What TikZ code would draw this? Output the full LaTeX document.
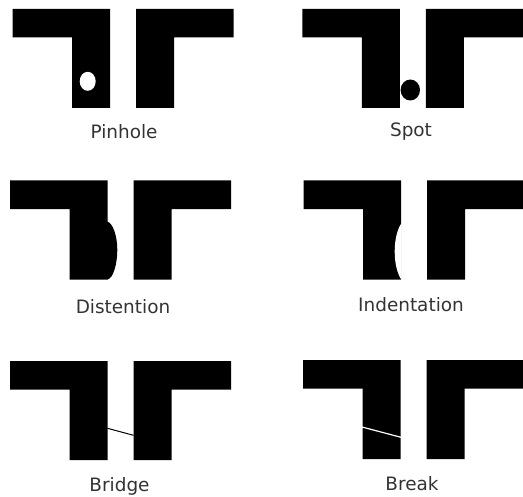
\documentclass[tikz,border=0pt]{standalone}
\usepackage{fontspec}
\setmainfont{DejaVu Sans}
\tikzset{
  trace/.style={fill=black},
  label text/.style={font=\fontsize{18.5}{22}\selectfont,text=black!80},
}
% one pair of conductors, top left corner of the left one at (#1,#2)
\newcommand{\conductors}[2]{
  \begin{scope}[shift={(#1,#2)}]
    \fill[trace] (0,0) -- (97.5,0) -- (97.5,99) -- (59.5,99) -- (59.5,28.5) -- (0,28.5) -- cycle;
    \fill[trace] (123.5,0) -- (221,0) -- (221,28.5) -- (161.5,28.5) -- (161.5,99) -- (123.5,99) -- cycle;
  \end{scope}
}
\begin{document}
\begin{tikzpicture}[x=1bp,y=-1bp]
  \useasboundingbox (0,0) rectangle (523,497);
  % row 1
  \conductors{12.5}{9}
  \fill[white] (87.7,81.3) ellipse (8 and 9.5);
  \node[label text] (pinhole) at (124,132) {Pinhole};
  \conductors{302.3}{9}
  \fill[trace] (410.3,90) ellipse (9.7 and 10.5);
  \node[label text] (spot) at (411,132) {Spot};
  % row 2
  \conductors{10}{180.5}
  \fill[trace] (107,221.5) .. controls (113,223) and (117.3,236) .. (117.3,250)
    .. controls (117.3,264) and (113,279.5) .. (107,279.5) -- cycle;
  \node[label text] (distention) at (123,307) {Distention};
  \conductors{303.5}{180.5}
  \fill[white] (401.5,223) .. controls (397,230) and (394.7,240) .. (394.7,251.5)
    .. controls (394.7,263) and (397,273) .. (401.5,280) -- cycle;
  \node[label text] (indentation) at (411,305) {Indentation};
  % row 3
  \conductors{10}{361}
  \coordinate (bridge a) at (107.5,428.3);
  \coordinate (bridge b) at (133.5,435.3);
  \draw[line width=1bp,black] (bridge a) -- (bridge b);
  \node[label text] (bridge) at (119.5,486) {Bridge};
  \conductors{303}{360}
  \coordinate (break a) at (362,427);
  \coordinate (break b) at (401,437.3);
  \draw[line width=1.2bp,white] (break a) -- (break b);
  \node[label text] (break) at (412,484) {Break};
\end{tikzpicture}
\end{document}
